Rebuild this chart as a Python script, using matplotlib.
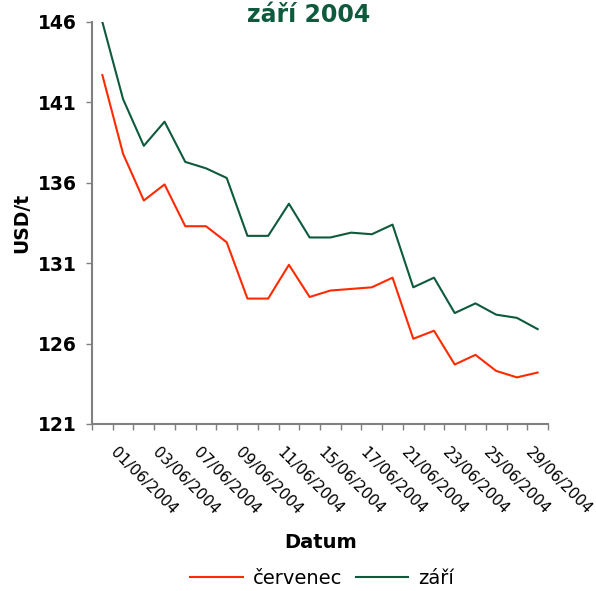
# Ceny září 2004 - vývoj v červnu

import numpy as np
import matplotlib
matplotlib.use("Agg")
import matplotlib.pyplot as plt

# trading days in June 2004
dates = ["01/06/2004", "02/06/2004", "03/06/2004", "04/06/2004", "07/06/2004",
         "08/06/2004", "09/06/2004", "10/06/2004", "11/06/2004", "14/06/2004",
         "15/06/2004", "16/06/2004", "17/06/2004", "18/06/2004", "21/06/2004",
         "22/06/2004", "23/06/2004", "24/06/2004", "25/06/2004", "28/06/2004",
         "29/06/2004", "30/06/2004"]

cervenec = [142.7, 137.8, 134.9, 135.9, 133.3, 133.3, 132.3, 128.8, 128.8, 130.9,
            128.9, 129.3, 129.4, 129.5, 130.1, 126.3, 126.8, 124.7, 125.3, 124.3,
            123.9, 124.2]
zari = [146.0, 141.2, 138.3, 139.8, 137.3, 136.9, 136.3, 132.7, 132.7, 134.7,
        132.6, 132.6, 132.9, 132.8, 133.4, 129.5, 130.1, 127.9, 128.5, 127.8,
        127.6, 126.9]

yticks = [121, 126, 131, 136, 141, 146]

red = "#ff2a00"
green = "#0d5a3c"

fig = plt.figure(figsize=(5.96, 5.91), dpi=100)
ax = fig.add_axes([92 / 596, 1 - 424 / 591, (548 - 92) / 596, (424 - 22) / 591])

x = np.arange(len(dates))
ax.plot(x, cervenec, color=red, lw=1.5, label="červenec")
ax.plot(x, zari, color=green, lw=1.5, label="září")

ax.set_xlim(-0.5, len(dates) - 0.5)
ax.set_ylim(121, 146)
ax.set_yticks(yticks)
ax.set_yticklabels([str(v) for v in yticks], fontsize=13.5, fontweight="bold")

# ticks at category boundaries, labels every second day (nudged right like Excel)
ax.xaxis.remove_overlapping_locs = False
ax.set_xticks(np.arange(-0.5, len(dates), 1))
ax.set_xticklabels([])
ax.set_xticks(x[::2] + 0.52, minor=True)
ax.set_xticklabels(dates[::2], minor=True, rotation=-45, ha="left",
                   va="center", rotation_mode="anchor", fontsize=11)
ax.tick_params(axis="x", which="minor", length=0, pad=19)
ax.tick_params(axis="x", which="major", length=4, color="#808080", width=1)
ax.tick_params(axis="y", length=4, color="#808080", width=1, pad=7)

for s in ["top", "right"]:
    ax.spines[s].set_visible(False)
for s in ["left", "bottom"]:
    ax.spines[s].set_color("#808080")
    ax.spines[s].set_linewidth(1.5)

ax.set_ylabel("USD/t", fontsize=13.5, fontweight="bold", labelpad=5)
fig.text(321 / 596, 1 - 543 / 591, "Datum", fontsize=14, fontweight="bold",
         ha="center", va="center")
fig.text(309 / 596, 1 - 15 / 591, "září 2004", fontsize=17, fontweight="bold",
         color=green, ha="center", va="center")

fig.legend(loc="center", bbox_to_anchor=(322 / 596, 1 - 578 / 591), ncol=2,
           frameon=False, fontsize=14, handlelength=2.7, columnspacing=0.7,
           handletextpad=0.5)

fig.savefig("out.png", dpi=100)
